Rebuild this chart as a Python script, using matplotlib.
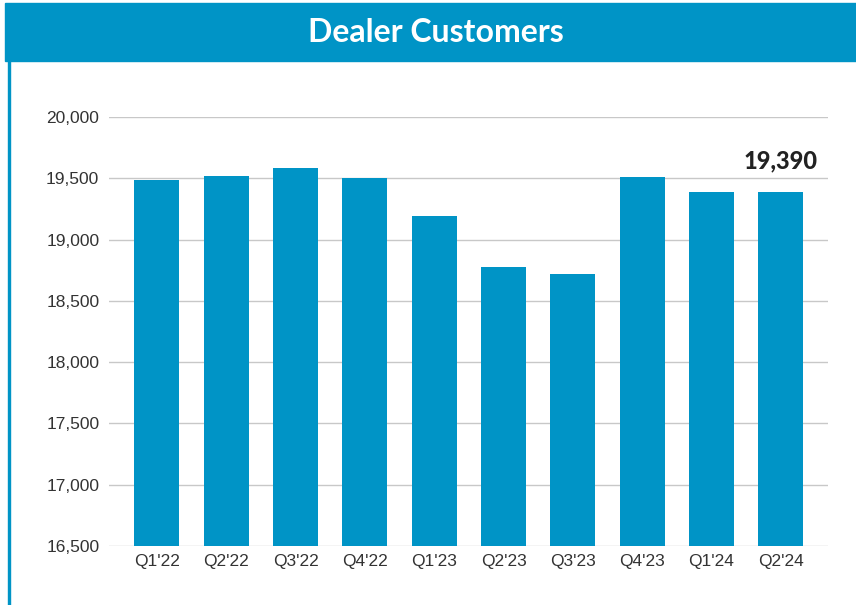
import matplotlib.pyplot as plt
from matplotlib.patches import Rectangle
from matplotlib.ticker import FuncFormatter

# Data
quarters = ["Q1'22", "Q2'22", "Q3'22", "Q4'22", "Q1'23",
            "Q2'23", "Q3'23", "Q4'23", "Q1'24", "Q2'24"]
customers = [19490, 19520, 19580, 19500, 19190,
             18780, 18720, 19510, 19390, 19390]
y_ticks = [16500, 17000, 17500, 18000, 18500, 19000, 19500, 20000]

title = "Dealer Customers"
blue = "#0094C6"

W, H = 856, 605
fig = plt.figure(figsize=(W / 100, H / 100), dpi=100)

# header band and left frame line (figure pixel coords)
fig.patches.append(Rectangle((5 / W, 1 - 61 / H), 1 - 5 / W, 58 / H,
                             transform=fig.transFigure, color=blue, zorder=0))
fig.patches.append(Rectangle((8 / W, 0), 2 / W, 1 - 61 / H,
                             transform=fig.transFigure, color=blue, zorder=0))
fig.text(436 / W, 1 - 33 / H, title, color="white", fontsize=23,
         fontweight="bold", family="Lato", ha="center", va="center")

# plot area
left, right, top, bottom = 109, 828, 117, 546
ax = fig.add_axes([left / W, 1 - bottom / H, (right - left) / W, (bottom - top) / H])

x = list(range(len(quarters)))
ax.bar(x, customers, width=0.65, color=blue, zorder=3)

ax.set_ylim(16500, 20000)
ax.set_xlim(-0.69, 9.68)
ax.set_yticks(y_ticks)
ax.yaxis.set_major_formatter(FuncFormatter(lambda v, p: f"{int(v):,}"))
ax.set_xticks(x)
ax.set_xticklabels(quarters)

ax.grid(axis="y", color="#c8c8c8", linewidth=1, zorder=0)
for s in ax.spines.values():
    s.set_visible(False)
ax.tick_params(axis="both", length=0, labelsize=12.5, labelcolor="#333333",
               labelfontfamily="Liberation Sans")
ax.tick_params(axis="y", pad=7)
ax.tick_params(axis="x", pad=6)

# label on the latest quarter
ax.annotate(f"{customers[-1]:,}", xy=(x[-1], customers[-1]),
            xytext=(0, 14), textcoords="offset points",
            ha="center", va="bottom", fontsize=17, fontweight="black",
            family="Lato", color="#222222", annotation_clip=False)

fig.savefig("out.png", dpi=100)
